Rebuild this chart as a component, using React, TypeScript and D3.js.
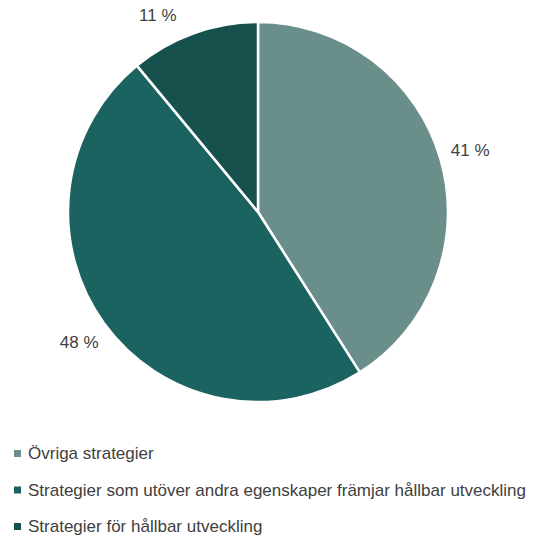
import React from "react";
import * as d3 from "d3";

const categories = [
  "Övriga strategier",
  "Strategier som utöver andra egenskaper främjar hållbar utveckling",
  "Strategier för hållbar utveckling",
];
const values = [41, 48, 11];
const labels = ["41 %", "48 %", "11 %"];
const colors = ["#6a8f8b", "#1b6360", "#16514e"];

export default function App() {
  const W = 540, H = 540;
  const cx = 258, cy = 212, r = 190;
  const pie = d3.pie<number>().sort(null).value((d) => d)(values);
  const arc = d3.arc<d3.PieArcDatum<number>>().innerRadius(0).outerRadius(r);
  const fontSize = 17;
  const textColor = "#404040";
  const legendY = [459, 495.5, 532];
  const labelR = 221;
  const minCy = 15 - cy;
  return (
    <svg width={W} height={H} style={{ position: "absolute", left: 0, top: 0 }} fontFamily="'Liberation Sans', Arial, sans-serif">
      <rect width={W} height={H} fill="white" />
      <g transform={`translate(${cx},${cy})`}>
        {pie.map((p, i) => (
          <path key={i} d={arc(p) || ""} fill={colors[i]} stroke="white" strokeWidth={2.5} strokeLinejoin="round" />
        ))}
        {pie.map((p, i) => {
          const a = (p.startAngle + p.endAngle) / 2;
          let x = Math.sin(a) * labelR;
          let y = -Math.cos(a) * labelR;
          if (y < minCy) {
            y = minCy;
            x = Math.sign(x) * Math.sqrt(labelR * labelR - y * y);
          }
          return (
            <text key={i} x={x} y={y + 6} textAnchor="middle" fontSize={fontSize} fill={textColor}>
              {labels[i]}
            </text>
          );
        })}
      </g>
      {categories.map((c, i) => (
        <g key={i}>
          <rect x={14} y={legendY[i] - 9} width={7} height={7} fill={colors[i]} />
          <text x={28} y={legendY[i]} fontSize={fontSize} fill={textColor}>{c}</text>
        </g>
      ))}
    </svg>
  );
}
